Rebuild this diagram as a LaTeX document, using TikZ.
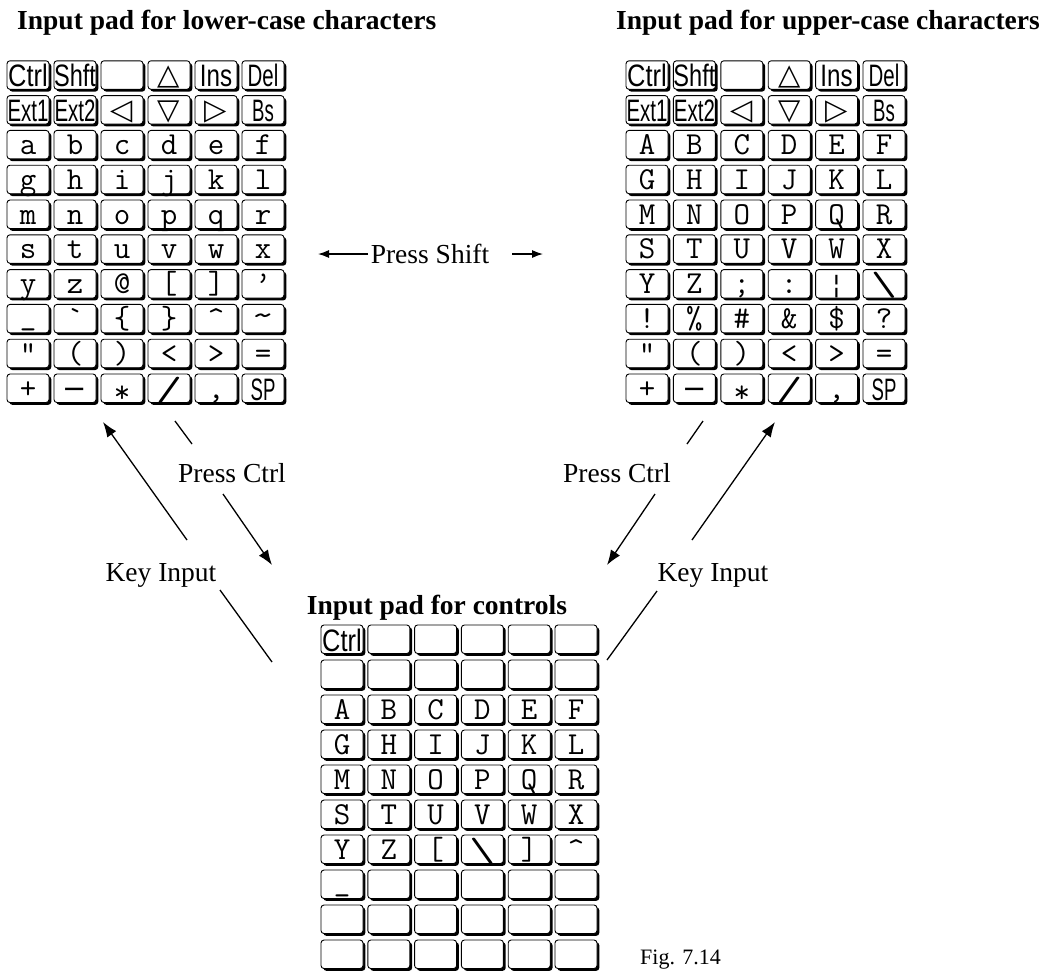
\documentclass[tikz,border=0pt]{standalone}
\usepackage{fontspec}
\setmainfont{Liberation Serif}
\newfontfamily\sansf{Liberation Sans}
\newfontfamily\symf{DejaVu Sans}
\usetikzlibrary{arrows.meta,shadows}
\newcommand\kp{47}
\newcommand\kSK[2]{\raisebox{-2pt}{\sansf\fontsize{31}{31}\selectfont\scalebox{#1}[1]{#2}}}
\newcommand\kTR[1]{{\symf\fontsize{29}{29}\selectfont #1}}
\newcommand\kDG[1]{\raisebox{-2pt}{\scalebox{1.6}[1.05]{#1}}}
\newcommand\kUS{\raisebox{4pt}{\symbol{95}}}
\newcommand\krow[9]{%
  \node[kk] (#1-1) at ({#2+21},{#3+14.25}) {#4};
  \node[kk] (#1-2) at ({#2+\kp+21},{#3+14.25}) {#5};
  \node[kk] (#1-3) at ({#2+2*\kp+21},{#3+14.25}) {#6};
  \node[kk] (#1-4) at ({#2+3*\kp+21},{#3+14.25}) {#7};
  \node[kk] (#1-5) at ({#2+4*\kp+21},{#3+14.25}) {#8};
  \node[kk] (#1-6) at ({#2+5*\kp+21},{#3+14.25}) {#9};}
\begin{document}
\begin{tikzpicture}[x=1pt,y=-1pt,font=\fontsize{27.5}{30}\selectfont,
  kk/.style={draw, line width=0.9pt, fill=white, rounded corners=3pt,
    minimum width=42pt, minimum height=28.5pt, inner sep=0pt,
    text height=19.5pt, text depth=0pt, font=\ttfamily\fontsize{32}{32}\selectfont,
    drop shadow={shadow xshift=2.3pt,shadow yshift=-2.3pt,fill=black,opacity=1}},
  seg/.style={line width=1.3pt},
  arr/.style={line width=1.3pt,-{Latex[length=15pt,width=11pt]}},
  sarr/.style={line width=1.2pt,-{Latex[length=11pt,width=8pt]}},
  title/.style={font=\bfseries\fontsize{27.5}{30}\selectfont, inner sep=0pt},
  lbl/.style={inner sep=0pt}]
\useasboundingbox (0,0) rectangle (1058,970);

% titles
\node[title, anchor=base west] (tl) at (17,29) {Input pad for lower-case characters};
\node[title, anchor=base west] (tr) at (616,29) {Input pad for upper-case characters};
\node[title, anchor=base] (tb) at (437,614) {Input pad for controls};

% left pad
\renewcommand\kp{47}
\krow{L1}{7}{60.8}{\kSK{0.82}{Ctrl}}{\kSK{0.76}{Shft}}{}{\kTR{△}}{\kSK{0.78}{Ins}}{\kSK{0.66}{Del}}
\krow{L2}{7}{95.6}{\kSK{0.66}{Ext1}}{\kSK{0.66}{Ext2}}{\kTR{◁}}{\kTR{▽}}{\kTR{▷}}{\kSK{0.6}{Bs}}
\krow{L3}{7}{130.4}{a}{b}{c}{d}{e}{f}
\krow{L4}{7}{165.2}{g}{h}{i}{j}{k}{l}
\krow{L5}{7}{200}{m}{n}{o}{p}{q}{r}
\krow{L6}{7}{234.8}{s}{t}{u}{v}{w}{x}
\krow{L7}{7}{269.6}{y}{z}{@}{[}{]}{’}
\krow{L8}{7}{304.4}{\kUS}{\symbol{96}}{\symbol{123}}{\symbol{125}}{\symbol{94}}{\raisebox{3pt}{\scalebox{1.4}[1]{\symbol{126}}}}
\krow{L9}{7}{339.2}{”}{(}{)}{<}{>}{=}
\krow{L10}{7}{374}{+}{\kTR{−}}{\raisebox{-4pt}{*}}{\kDG{/}}{,}{\kSK{0.6}{SP}}

% right pad
\renewcommand\kp{47.4}
\krow{R1}{626}{60.8}{\kSK{0.82}{Ctrl}}{\kSK{0.76}{Shft}}{}{\kTR{△}}{\kSK{0.78}{Ins}}{\kSK{0.66}{Del}}
\krow{R2}{626}{95.6}{\kSK{0.66}{Ext1}}{\kSK{0.66}{Ext2}}{\kTR{◁}}{\kTR{▽}}{\kTR{▷}}{\kSK{0.6}{Bs}}
\krow{R3}{626}{130.4}{A}{B}{C}{D}{E}{F}
\krow{R4}{626}{165.2}{G}{H}{I}{J}{K}{L}
\krow{R5}{626}{200}{M}{N}{O}{P}{Q}{R}
\krow{R6}{626}{234.8}{S}{T}{U}{V}{W}{X}
\krow{R7}{626}{269.6}{Y}{Z}{;}{:}{{\symf\fontsize{26}{26}\selectfont ¦}}{\kDG{\symbol{92}}}
\krow{R8}{626}{304.4}{!}{\%}{\#}{\&}{\$}{?}
\krow{R9}{626}{339.2}{”}{(}{)}{<}{>}{=}
\krow{R10}{626}{374}{+}{\kTR{−}}{\raisebox{-4pt}{*}}{\kDG{/}}{,}{\kSK{0.6}{SP}}

% bottom pad
\renewcommand\kp{46.8}
\krow{B1}{321}{625}{\kSK{0.82}{Ctrl}}{}{}{}{}{}
\krow{B2}{321}{660}{}{}{}{}{}{}
\krow{B3}{321}{695}{A}{B}{C}{D}{E}{F}
\krow{B4}{321}{730}{G}{H}{I}{J}{K}{L}
\krow{B5}{321}{765}{M}{N}{O}{P}{Q}{R}
\krow{B6}{321}{800}{S}{T}{U}{V}{W}{X}
\krow{B7}{321}{835}{Y}{Z}{[}{\kDG{\symbol{92}}}{]}{\symbol{94}}
\krow{B8}{321}{870}{\kUS}{}{}{}{}{}
\krow{B9}{321}{905}{}{}{}{}{}{}
\krow{B10}{321}{940}{}{}{}{}{}{}

% Press Shift
\node[lbl, anchor=base] (ps) at (430,263) {Press Shift};
\coordinate (psl0) at (368,254);
\coordinate (psl1) at (318,254);
\coordinate (psr0) at (512,254);
\coordinate (psr1) at (543,254);
\draw[sarr] (psl0) -- (psl1);
\draw[sarr] (psr0) -- (psr1);

% left Press Ctrl
\node[lbl, anchor=base] (pcl) at (232,482) {Press Ctrl};
\coordinate (pcl0) at (175,421);
\coordinate (pcl1) at (192,444);
\coordinate (pcl2) at (223,494);
\coordinate (pcl3) at (272,565);
\draw[seg] (pcl0) -- (pcl1);
\draw[arr] (pcl2) -- (pcl3);

% right Press Ctrl
\node[lbl, anchor=base] (pcr) at (617,482) {Press Ctrl};
\coordinate (pcr0) at (703,421);
\coordinate (pcr1) at (687,444);
\coordinate (pcr2) at (655,494);
\coordinate (pcr3) at (607,565);
\draw[seg] (pcr0) -- (pcr1);
\draw[arr] (pcr2) -- (pcr3);

% left Key Input
\node[lbl, anchor=base] (kil) at (161,581) {Key Input};
\coordinate (kil0) at (272,662);
\coordinate (kil1) at (220,590);
\coordinate (kil2) at (187,540);
\coordinate (kil3) at (103,422);
\draw[seg] (kil0) -- (kil1);
\draw[arr] (kil2) -- (kil3);

% right Key Input
\node[lbl, anchor=base] (kir) at (713,581) {Key Input};
\coordinate (kir0) at (607,660);
\coordinate (kir1) at (657,591);
\coordinate (kir2) at (692,540);
\coordinate (kir3) at (775,422);
\draw[seg] (kir0) -- (kir1);
\draw[arr] (kir2) -- (kir3);

% figure label
\node[lbl, anchor=base west, font=\fontsize{22}{24}\selectfont] (fig) at (640,964) {Fig. 7.14};
\end{tikzpicture}
\end{document}
